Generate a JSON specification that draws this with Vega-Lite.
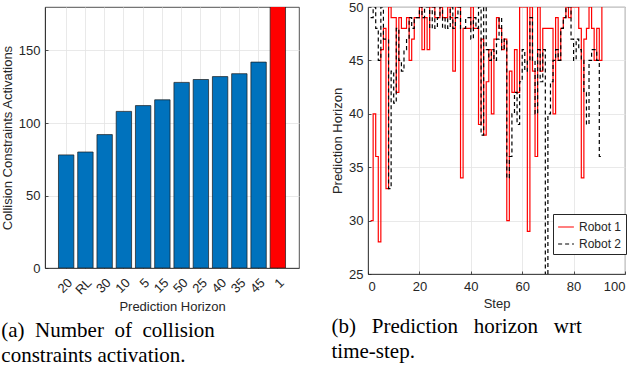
{
  "$schema": "https://vega.github.io/schema/vega-lite/v6.json",
  "background": "white",
  "padding": {"left": 0, "top": 0, "right": 5, "bottom": 0},
  "bounds": "flush",
  "spacing": 69,
  "resolve": {
    "scale": {"color": "independent", "strokeDash": "independent"},
    "legend": {"color": "independent", "strokeDash": "independent"}
  },
  "hconcat": [
    {
      "width": 254,
      "height": 261,
      "data": {"values": [
        {"horizon": "20", "activations": 78, "kind": "horizon"},
        {"horizon": "RL", "activations": 80, "kind": "horizon"},
        {"horizon": "30", "activations": 92, "kind": "horizon"},
        {"horizon": "10", "activations": 108, "kind": "horizon"},
        {"horizon": "5", "activations": 112, "kind": "horizon"},
        {"horizon": "15", "activations": 116, "kind": "horizon"},
        {"horizon": "50", "activations": 128, "kind": "horizon"},
        {"horizon": "25", "activations": 130, "kind": "horizon"},
        {"horizon": "40", "activations": 132, "kind": "horizon"},
        {"horizon": "35", "activations": 134, "kind": "horizon"},
        {"horizon": "45", "activations": 142, "kind": "horizon"},
        {"horizon": "1", "activations": 200, "kind": "one"}
      ]},
      "title": {
        "text": ["(a) \u00a0Number \u00a0of \u00a0collision", "constraints activation."],
        "orient": "bottom", "anchor": "start", "frame": "bounds",
        "font": "Liberation Serif", "fontSize": 21, "fontWeight": "normal",
        "color": "black", "lineHeight": 25, "offset": 6
      },
      "mark": {"type": "bar", "stroke": "#1a1a1a", "strokeWidth": 0.7, "clip": true},
      "encoding": {
        "x": {
          "field": "horizon", "type": "nominal", "sort": null,
          "title": "Prediction Horizon",
          "scale": {"paddingInner": 0.2, "paddingOuter": 0.7},
          "axis": {"labelAngle": -45, "labelAlign": "right", "labelBaseline": "top", "bandPosition": 0.5, "grid": true, "titlePadding": 4, "labelPadding": 11}
        },
        "y": {
          "field": "activations", "type": "quantitative",
          "scale": {"domain": [0, 180], "nice": false},
          "title": "Collision Constraints Activations",
          "axis": {"values": [0, 50, 100, 150], "titlePadding": 4, "labelPadding": 8}
        },
        "color": {
          "field": "kind", "type": "nominal",
          "scale": {"domain": ["horizon", "one"], "range": ["#0072BD", "#FF0000"]},
          "legend": null
        }
      }
    },
    {
      "width": 257,
      "height": 267,
      "data": {"values": [
        {"step": 1, "Robot 1": 30, "Robot 2": 49},
        {"step": 2, "Robot 1": 40, "Robot 2": 50},
        {"step": 3, "Robot 1": 36, "Robot 2": 48},
        {"step": 4, "Robot 1": 28, "Robot 2": 45},
        {"step": 5, "Robot 1": 46, "Robot 2": 50},
        {"step": 6, "Robot 1": 48, "Robot 2": 47},
        {"step": 7, "Robot 1": 33, "Robot 2": 47},
        {"step": 8, "Robot 1": 50, "Robot 2": 33},
        {"step": 9, "Robot 1": 49, "Robot 2": 44},
        {"step": 10, "Robot 1": 49, "Robot 2": 41},
        {"step": 11, "Robot 1": 42, "Robot 2": 48},
        {"step": 12, "Robot 1": 49, "Robot 2": 45},
        {"step": 13, "Robot 1": 48, "Robot 2": 44},
        {"step": 14, "Robot 1": 48, "Robot 2": 46},
        {"step": 15, "Robot 1": 49, "Robot 2": 47},
        {"step": 16, "Robot 1": 45, "Robot 2": 49},
        {"step": 17, "Robot 1": 47, "Robot 2": 48},
        {"step": 18, "Robot 1": 49, "Robot 2": 49},
        {"step": 19, "Robot 1": 49, "Robot 2": 49},
        {"step": 20, "Robot 1": 50, "Robot 2": 50},
        {"step": 21, "Robot 1": 46, "Robot 2": 49},
        {"step": 22, "Robot 1": 49, "Robot 2": 50},
        {"step": 23, "Robot 1": 46, "Robot 2": 50},
        {"step": 24, "Robot 1": 50, "Robot 2": 48},
        {"step": 25, "Robot 1": 50, "Robot 2": 50},
        {"step": 26, "Robot 1": 49, "Robot 2": 48},
        {"step": 27, "Robot 1": 49, "Robot 2": 49},
        {"step": 28, "Robot 1": 50, "Robot 2": 50},
        {"step": 29, "Robot 1": 49, "Robot 2": 48},
        {"step": 30, "Robot 1": 49, "Robot 2": 49},
        {"step": 31, "Robot 1": 50, "Robot 2": 48},
        {"step": 32, "Robot 1": 49, "Robot 2": 50},
        {"step": 33, "Robot 1": 44, "Robot 2": 48},
        {"step": 34, "Robot 1": 50, "Robot 2": 49},
        {"step": 35, "Robot 1": 50, "Robot 2": 50},
        {"step": 36, "Robot 1": 34, "Robot 2": 48},
        {"step": 37, "Robot 1": 48, "Robot 2": 48},
        {"step": 38, "Robot 1": 48, "Robot 2": 49},
        {"step": 39, "Robot 1": 48, "Robot 2": 49},
        {"step": 40, "Robot 1": 50, "Robot 2": 47},
        {"step": 41, "Robot 1": 48, "Robot 2": 49},
        {"step": 42, "Robot 1": 48, "Robot 2": 48},
        {"step": 43, "Robot 1": 39, "Robot 2": 50},
        {"step": 44, "Robot 1": 47, "Robot 2": 38},
        {"step": 45, "Robot 1": 38, "Robot 2": 50},
        {"step": 46, "Robot 1": 43, "Robot 2": 46},
        {"step": 47, "Robot 1": 46, "Robot 2": 45},
        {"step": 48, "Robot 1": 40, "Robot 2": 46},
        {"step": 49, "Robot 1": 47, "Robot 2": 45},
        {"step": 50, "Robot 1": 49, "Robot 2": 47},
        {"step": 51, "Robot 1": 48, "Robot 2": 49},
        {"step": 52, "Robot 1": 46, "Robot 2": 46},
        {"step": 53, "Robot 1": 47, "Robot 2": 47},
        {"step": 54, "Robot 1": 30, "Robot 2": 34},
        {"step": 55, "Robot 1": 44, "Robot 2": 36},
        {"step": 56, "Robot 1": 42, "Robot 2": 40},
        {"step": 57, "Robot 1": 46, "Robot 2": 42},
        {"step": 58, "Robot 1": 42, "Robot 2": 39},
        {"step": 59, "Robot 1": 50, "Robot 2": 43},
        {"step": 60, "Robot 1": 50, "Robot 2": 46},
        {"step": 61, "Robot 1": 50, "Robot 2": 44},
        {"step": 62, "Robot 1": 29, "Robot 2": 45},
        {"step": 63, "Robot 1": 50, "Robot 2": 49},
        {"step": 64, "Robot 1": 44, "Robot 2": 45},
        {"step": 65, "Robot 1": 36, "Robot 2": 40},
        {"step": 66, "Robot 1": 50, "Robot 2": 46},
        {"step": 67, "Robot 1": 44, "Robot 2": 43},
        {"step": 68, "Robot 1": 48, "Robot 2": 46},
        {"step": 69, "Robot 1": 48, "Robot 2": 20},
        {"step": 70, "Robot 1": 48, "Robot 2": 40},
        {"step": 71, "Robot 1": 48, "Robot 2": 43},
        {"step": 72, "Robot 1": 40, "Robot 2": 45},
        {"step": 73, "Robot 1": 49, "Robot 2": 46},
        {"step": 74, "Robot 1": 45, "Robot 2": 45},
        {"step": 75, "Robot 1": 48, "Robot 2": 48},
        {"step": 76, "Robot 1": 49, "Robot 2": 49},
        {"step": 77, "Robot 1": 50, "Robot 2": 50},
        {"step": 78, "Robot 1": 49, "Robot 2": 50},
        {"step": 79, "Robot 1": 50, "Robot 2": 47},
        {"step": 80, "Robot 1": 50, "Robot 2": 45},
        {"step": 81, "Robot 1": 50, "Robot 2": 47},
        {"step": 82, "Robot 1": 48, "Robot 2": 46},
        {"step": 83, "Robot 1": 34, "Robot 2": 45},
        {"step": 84, "Robot 1": 47, "Robot 2": 42},
        {"step": 85, "Robot 1": 48, "Robot 2": 39},
        {"step": 86, "Robot 1": 50, "Robot 2": 45},
        {"step": 87, "Robot 1": 48, "Robot 2": 46},
        {"step": 88, "Robot 1": 45, "Robot 2": 46},
        {"step": 89, "Robot 1": 48, "Robot 2": 45},
        {"step": 90, "Robot 1": 45, "Robot 2": 36},
        {"step": 91, "Robot 1": 50, "Robot 2": 36}
      ]},
      "transform": [{"fold": ["Robot 1", "Robot 2"], "as": ["robot", "horizon"]}],
      "title": {
        "text": ["(b) \u00a0\u00a0Prediction \u00a0\u00a0horizon \u00a0\u00a0wrt", "time-step."],
        "orient": "bottom", "anchor": "start", "frame": "bounds",
        "font": "Liberation Serif", "fontSize": 21, "fontWeight": "normal",
        "color": "black", "lineHeight": 25, "offset": 6
      },
      "mark": {"type": "line", "interpolate": "step-after", "strokeWidth": 1.2, "clip": true},
      "encoding": {
        "x": {
          "field": "step", "type": "quantitative",
          "scale": {"domain": [0, 100], "nice": false},
          "title": "Step",
          "axis": {"values": [0, 20, 40, 60, 80, 100], "grid": true, "titlePadding": 4, "labelPadding": 9}
        },
        "y": {
          "field": "horizon", "type": "quantitative",
          "scale": {"domain": [25, 50], "nice": false, "zero": false},
          "title": "Prediction Horizon",
          "axis": {"values": [25, 30, 35, 40, 45, 50], "grid": true, "titlePadding": 4, "labelPadding": 8}
        },
        "color": {
          "field": "robot", "type": "nominal",
          "scale": {"domain": ["Robot 1", "Robot 2"], "range": ["#FF0000", "#000000"]},
          "legend": {
            "title": null, "orient": "none", "legendX": 185, "legendY": 207,
            "strokeColor": "#262626", "fillColor": "white", "padding": 4,
            "labelFont": "Liberation Sans", "labelFontSize": 12, "labelColor": "#262626",
            "symbolType": "stroke", "symbolSize": 250, "symbolStrokeWidth": 1.2, "rowPadding": 2
          }
        },
        "strokeDash": {
          "field": "robot", "type": "nominal",
          "scale": {"domain": ["Robot 1", "Robot 2"], "range": [[1, 0], [4, 3]]},
          "legend": {
            "title": null, "orient": "none", "legendX": 185, "legendY": 207,
            "strokeColor": "#262626", "fillColor": "white", "padding": 4,
            "labelFont": "Liberation Sans", "labelFontSize": 12, "labelColor": "#262626",
            "symbolType": "stroke", "symbolSize": 250, "symbolStrokeWidth": 1.2, "rowPadding": 2
          }
        }
      }
    }
  ],
  "config": {
    "view": {"stroke": "#262626", "strokeWidth": 0.8},
    "axis": {
      "labelFont": "Liberation Sans", "titleFont": "Liberation Sans",
      "labelFontSize": 13, "titleFontSize": 13, "titleFontWeight": "normal",
      "labelColor": "#262626", "titleColor": "#262626",
      "gridColor": "#e3e3e3", "gridWidth": 0.8,
      "domainColor": "#262626", "domainWidth": 0.8,
      "ticks": true, "tickSize": -3, "tickColor": "#262626", "tickWidth": 0.8
    }
  }
}
